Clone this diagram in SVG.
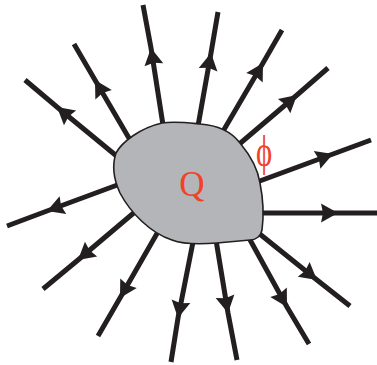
<svg xmlns="http://www.w3.org/2000/svg" width="377" height="365" viewBox="0 0 377 365">
<defs>
<style>
.fl{fill:none;stroke:#231f20;stroke-width:5;marker-mid:url(#ah)}
.blob{fill:#b4b5b8;stroke:#231f20;stroke-width:1.6}
.lbl{font-family:"Liberation Serif","Times New Roman",serif;fill:#ee4327;text-anchor:middle}
</style>
<marker id="ah" markerUnits="userSpaceOnUse" markerWidth="22" markerHeight="22" viewBox="-19 -11 20 22" refX="0" refY="0" orient="auto">
<path d="M0,0 L-17,-9.5 L-15,0 L-17,9.5 Z" fill="#231f20"/>
</marker>
</defs>
<g id="connectors">
<path class="fl" d="M163,125 L151,48 L143,5"/>
<path class="fl" d="M198,126 L211,53 L218,12"/>
<path class="fl" d="M222,133 L263,63 L282,30"/>
<path class="fl" d="M237,146 L297,95 L328,68"/>
<path class="fl" d="M257,182 L333,154 L371,140"/>
<path class="fl" d="M260,213 L338,213 L377,213"/>
<path class="fl" d="M256,231 L317,280 L350,306"/>
<path class="fl" d="M249,238 L287,307 L309,344"/>
<path class="fl" d="M216,240 L228,313 L237,360"/>
<path class="fl" d="M193,242 L178,318 L171,362"/>
<path class="fl" d="M159,230 L120,298 L98,336"/>
<path class="fl" d="M136,211 L78,260 L43,289"/>
<path class="fl" d="M120,184 L47,211 L7,226"/>
<path class="fl" d="M119,158 L57,107 L25,80"/>
<path class="fl" d="M133,145 L95,80 L74,44"/>
</g>
<g id="charge">
<path class="blob" d="M162,123 C175,121 190,123 200,124 C215,125 230,130 240,143 C250,155 258,170 260,183 C263,198 264,215 262,230 C261,236 256,240 250,240 L217,243 C205,244 185,245 172,240 C150,233 130,212 120,193 C114,180 112,165 116,153 C122,142 140,128 162,123 Z"/>
<text class="lbl" x="192" y="196" font-size="35">Q</text>
</g>
<g id="flux-label">
<text class="lbl" transform="translate(264,166) scale(0.7,1)" x="0" y="0" font-size="44">ϕ</text>
</g>
</svg>
